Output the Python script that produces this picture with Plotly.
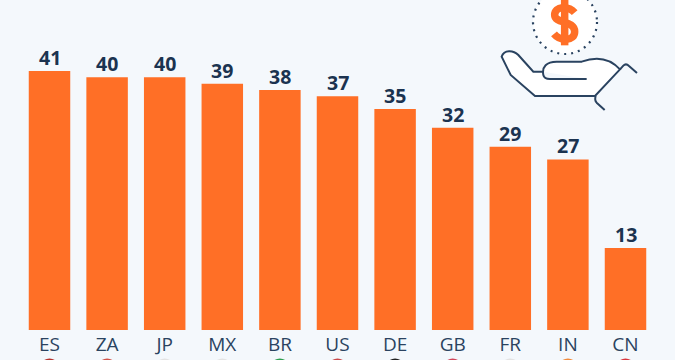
import plotly.graph_objects as go

categories = ["ES", "ZA", "JP", "MX", "BR", "US", "DE", "GB", "FR", "IN", "CN"]
values = [41, 40, 40, 39, 38, 37, 35, 32, 29, 27, 13]
flag_colors = ["#b5322c", "#d0534a", "#e3e3e3", "#e3e3e3", "#2e9e50", "#c9484a",
               "#222222", "#d0465a", "#e3e3e3", "#f08a3c", "#d8343c"]

W, H, BASE = 675, 360, 330
NAVY = "#2a4360"
ORANGE = "#ff6f26"
BG = "#f4f8fc"


def px(x):
    return x / W


def py(y):
    return (BASE - y) / BASE


def zoom_path(cmds):
    out = []
    for c in cmds:
        op, pts = c[0], c[1:]
        s = op
        s += " ".join(f"{px(480 + pts[i] / 3):.5f},{py(pts[i + 1] / 3):.5f}" for i in range(0, len(pts), 2))
        out.append(s)
    return " ".join(out)


hand = [("M", 190, 215), ("L", 160, 215), ("L", 115, 165), ("C", 100, 150, 72, 148, 65, 170),
        ("L", 92, 225), ("L", 165, 288), ("L", 345, 288), ("L", 420, 208),
        ("C", 385, 170, 345, 170, 305, 185), ("L", 230, 185),
        ("C", 200, 185, 185, 200, 190, 225), ("C", 192, 235, 200, 237, 210, 237), ("L", 320, 237)]
cuff1 = [("M", 420, 208), ("L", 430, 197), ("C", 435, 192, 442, 193, 447, 198), ("L", 471, 219)]
cuff2 = [("M", 347, 288), ("C", 344, 298, 345, 303, 350, 308), ("L", 374, 330)]
dollar = [("M", 284, 38), ("C", 265, 16, 224, 18, 224, 45), ("C", 224, 72, 284, 60, 284, 95),
          ("C", 284, 124, 240, 124, 222, 102)]
dollar_bar = [("M", 254, 0), ("L", 254, 136)]

shapes = []
shapes.append(dict(type="circle", xref="paper", yref="paper", x0=px(533), x1=px(597),
                   y0=py(54), y1=py(-10), fillcolor="white",
                   line=dict(color=NAVY, width=2.2, dash="2px,5px")))
shapes.append(dict(type="path", xref="paper", yref="paper",
                   path=zoom_path(hand), fillcolor="white", line=dict(color=NAVY, width=2)))
for p in (cuff1, cuff2):
    shapes.append(dict(type="path", xref="paper", yref="paper", path=zoom_path(p),
                       line=dict(color=NAVY, width=2)))
for p in (dollar, dollar_bar):
    shapes.append(dict(type="path", xref="paper", yref="paper", path=zoom_path(p),
                       line=dict(color=ORANGE, width=7.5)))
for i, c in enumerate(flag_colors):
    cx = 49.5 + 57.6 * i
    shapes.append(dict(type="circle", xref="paper", yref="paper", x0=px(cx - 10), x1=px(cx + 10),
                       y0=py(378.5), y1=py(358.5), fillcolor=c, line=dict(width=0)))

annotations = [dict(x=c, y=v, xref="x", yref="y", text=str(v), showarrow=False,
                    xanchor="center", yanchor="bottom", yshift=-2,
                    font=dict(family="Open Sans", size=19.5, color="#1b3350", weight=700))
               for c, v in zip(categories, values)]

fig = go.Figure(go.Bar(
    x=categories, y=values, marker=dict(color=ORANGE, line=dict(width=0)),
    hoverinfo="skip",
))
fig.update_layout(
    width=W, height=H, margin=dict(l=0, r=0, t=0, b=30, pad=0),
    paper_bgcolor=BG, plot_bgcolor=BG, bargap=0.28, showlegend=False,
    shapes=shapes, annotations=annotations,
    xaxis=dict(type="category", range=[-49.5 / 57.6, (W - 49.5) / 57.6], showgrid=False,
               zeroline=False, showline=False, ticks="", ticklabelstandoff=1,
               tickfont=dict(family="Open Sans", size=19, color=NAVY)),
    yaxis=dict(range=[0, BASE / 6.317], visible=False),
)
fig.write_html("out.html", config=dict(displayModeBar=False),
               post_script="document.body.style.margin='0';document.body.style.overflow='hidden';")
